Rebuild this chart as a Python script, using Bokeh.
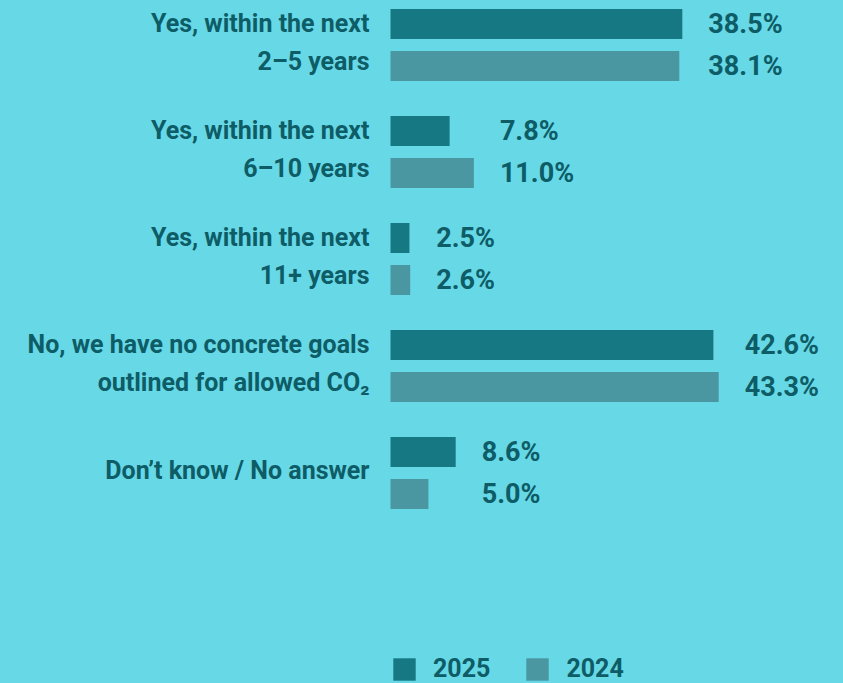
from bokeh.plotting import figure
from bokeh.models import Range1d, Legend, LegendItem
from bokeh.core.properties import value
from bokeh.embed import file_html
from bokeh.resources import INLINE

categories = [
    "Yes, within the next\n2–5 years",
    "Yes, within the next\n6–10 years",
    "Yes, within the next\n11+ years",
    "No, we have no concrete goals\noutlined for allowed CO₂",
    "Don’t know / No answer",
]
v2025 = [38.5, 7.8, 2.5, 42.6, 8.6]
v2024 = [38.1, 11.0, 2.6, 43.3, 5.0]
series_names = ["2025", "2024"]

BG = "#67d8e6"
C25 = "#167882"
C24 = "#4a97a2"
TXT = "#0d5c66"
FONT = "Roboto"

W, H = 843, 683
PX = 7.58          # pixels per percent
X0 = 390           # pixel position of 0%
GROUP_PX = 107.0   # pixels per category
top = -44.5 / GROUP_PX
p = figure(width=W, height=H, output_backend="svg", toolbar_location=None,
           x_range=Range1d(-X0 / PX, (W - X0) / PX),
           y_range=Range1d(top + H / GROUP_PX, top),
           x_axis_location=None, y_axis_location=None, min_border=0)
p.background_fill_color = BG
p.border_fill_color = BG
p.outline_line_color = None
p.xgrid.visible = False
p.ygrid.visible = False

off = 21.0 / GROUP_PX
bh = 30.0 / GROUP_PX
idx = list(range(len(categories)))

r25 = p.hbar(y=[i - off for i in idx], left=0, right=v2025, height=bh,
             fill_color=C25, line_color=None)
r24 = p.hbar(y=[i + off for i in idx], left=0, right=v2024, height=bh,
             fill_color=C24, line_color=None)

# category labels
line_gap = 38.0 / GROUP_PX
lx, ly, lt = [], [], []
for i, c in enumerate(categories):
    lines = c.split("\n")
    ys = [i - off - 1.0 / GROUP_PX, i - off + line_gap - 1.0 / GROUP_PX] if len(lines) == 2 else [i - 3.0 / GROUP_PX]
    for t, yy in zip(lines, ys):
        lx.append(0)
        ly.append(yy)
        lt.append(t)
p.text(x=lx, y=ly, text=lt, x_offset=-21, text_align="right", text_baseline="middle",
       text_font=value(FONT), text_font_style="bold", text_font_size="25px",
       text_color=TXT)

# value labels
vx, vy, vt = [], [], []
for i in idx:
    m = max(v2025[i], v2024[i])
    for yy, v in ((i - off, v2025[i]), (i + off, v2024[i])):
        vx.append(m)
        vy.append(yy)
        vt.append(f"{v:.1f}%")
p.text(x=vx, y=vy, text=vt, x_offset=26, text_align="left", text_baseline="middle",
       text_font=value(FONT), text_font_style="bold", text_font_size="27px",
       text_color=TXT)

legend = Legend(items=[LegendItem(label=series_names[0], renderers=[r25]),
                       LegendItem(label=series_names[1], renderers=[r24])],
                orientation="horizontal", location=(390, 0))
legend.background_fill_alpha = 0
legend.border_line_alpha = 0
legend.padding = 0
legend.margin = 0
legend.glyph_width = 28
legend.glyph_height = 28
legend.label_standoff = 15
legend.spacing = 33
legend.label_text_font = FONT
legend.label_text_font_size = "25px"
legend.label_text_font_style = "bold"
legend.label_text_color = TXT
legend.label_height = 28
p.add_layout(legend)

html = file_html(p, INLINE)
html = html.replace("</head>",
                    f"<style>html,body{{margin:0;padding:0;background:{BG};}}</style></head>", 1)
open("out.html", "w").write(html)
